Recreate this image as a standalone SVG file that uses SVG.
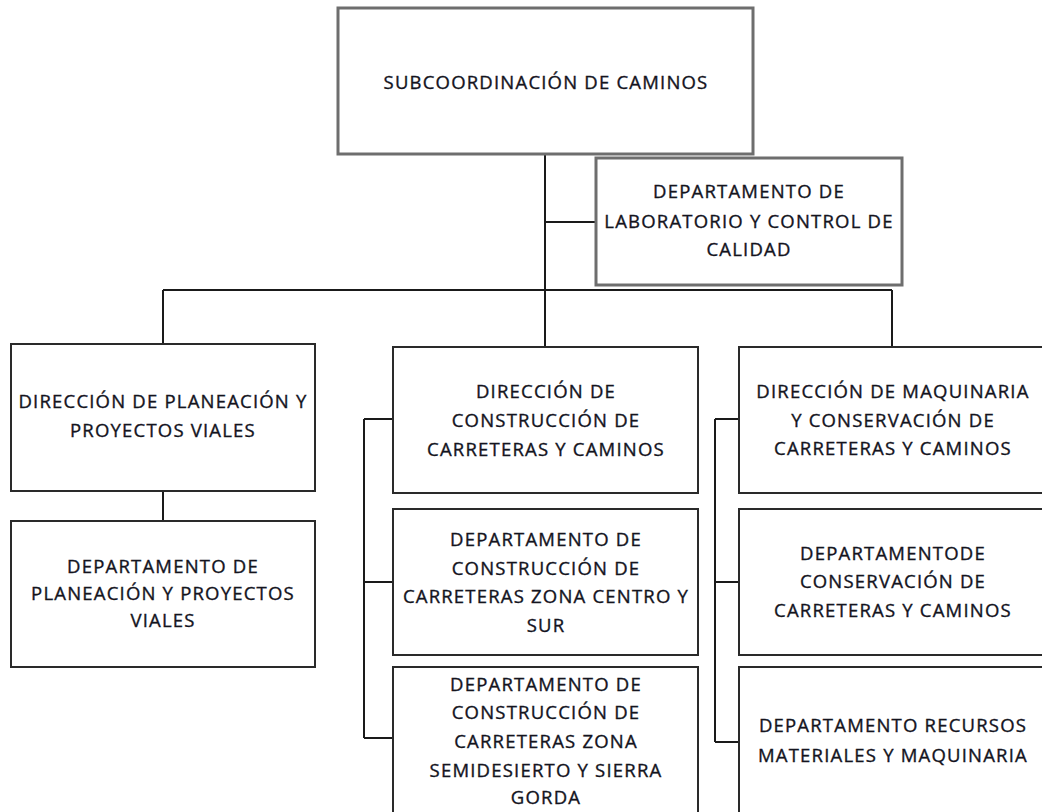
<svg xmlns="http://www.w3.org/2000/svg" width="1042" height="812" viewBox="0 0 1042 812">
<style>
.box{fill:#fff;stroke:#2a2a2a;stroke-width:2}
.boxg{fill:#fff;stroke:#6e6e6e;stroke-width:3}
.t{font-family:"Open Sans","Liberation Sans",Arial,sans-serif;font-size:18.5px;letter-spacing:1.2px;fill:#14141e;stroke:#14141e;stroke-width:0.35px;text-anchor:middle}
.c{fill:none;stroke:#1a1a1a;stroke-width:2}
</style>
<rect width="1042" height="812" fill="#fff"/>
<g id="connectors">
<path class="c" d="M545 154V347M545 222H596M163 290H892M163 290V344M892 290V347M163 491V521"/>
<path class="c" d="M364 419V738M364 419H393M364 582H393M364 738H393"/>
<path class="c" d="M715 419V742M715 419H739M715 582H739M715 742H739"/>
</g>
<g id="subcoordinacion">
<rect class="boxg" x="338" y="8" width="415" height="146"/>
<text class="t" x="546" y="89">SUBCOORDINACIÓN DE CAMINOS</text>
</g>
<g id="laboratorio">
<rect class="boxg" x="596" y="158" width="306" height="127"/>
<text class="t" x="749" y="198">DEPARTAMENTO DE</text>
<text class="t" x="749" y="228">LABORATORIO Y CONTROL DE</text>
<text class="t" x="749" y="256">CALIDAD</text>
</g>
<g id="dir-planeacion">
<rect class="box" x="11" y="344" width="304" height="147"/>
<text class="t" x="163" y="408">DIRECCIÓN DE PLANEACIÓN Y</text>
<text class="t" x="163" y="437">PROYECTOS VIALES</text>
</g>
<g id="dep-planeacion">
<rect class="box" x="11" y="521" width="304" height="146"/>
<text class="t" x="163" y="573">DEPARTAMENTO DE</text>
<text class="t" x="163" y="600">PLANEACIÓN Y PROYECTOS</text>
<text class="t" x="163" y="627">VIALES</text>
</g>
<g id="dir-construccion">
<rect class="box" x="393" y="347" width="305" height="146"/>
<text class="t" x="546" y="398">DIRECCIÓN DE</text>
<text class="t" x="546" y="427">CONSTRUCCIÓN DE</text>
<text class="t" x="546" y="456">CARRETERAS Y CAMINOS</text>
</g>
<g id="dep-centro-sur">
<rect class="box" x="393" y="509" width="305" height="146"/>
<text class="t" x="546" y="546">DEPARTAMENTO DE</text>
<text class="t" x="546" y="575">CONSTRUCCIÓN DE</text>
<text class="t" x="546" y="603">CARRETERAS ZONA CENTRO Y</text>
<text class="t" x="546" y="632">SUR</text>
</g>
<g id="dep-semidesierto">
<rect class="box" x="393" y="667" width="305" height="170"/>
<text class="t" x="546" y="691">DEPARTAMENTO DE</text>
<text class="t" x="546" y="719">CONSTRUCCIÓN DE</text>
<text class="t" x="546" y="748">CARRETERAS ZONA</text>
<text class="t" x="546" y="777">SEMIDESIERTO Y SIERRA</text>
<text class="t" x="546" y="804">GORDA</text>
</g>
<g id="dir-maquinaria">
<rect class="box" x="739" y="347" width="308" height="146"/>
<text class="t" x="893" y="398">DIRECCIÓN DE MAQUINARIA</text>
<text class="t" x="893" y="427">Y CONSERVACIÓN DE</text>
<text class="t" x="893" y="455">CARRETERAS Y CAMINOS</text>
</g>
<g id="dep-conservacion">
<rect class="box" x="739" y="509" width="308" height="146"/>
<text class="t" x="893" y="560">DEPARTAMENTODE</text>
<text class="t" x="893" y="588">CONSERVACIÓN DE</text>
<text class="t" x="893" y="617">CARRETERAS Y CAMINOS</text>
</g>
<g id="dep-recursos">
<rect class="box" x="739" y="667" width="308" height="170"/>
<text class="t" x="893" y="732">DEPARTAMENTO RECURSOS</text>
<text class="t" x="893" y="762">MATERIALES Y MAQUINARIA</text>
</g>
</svg>
